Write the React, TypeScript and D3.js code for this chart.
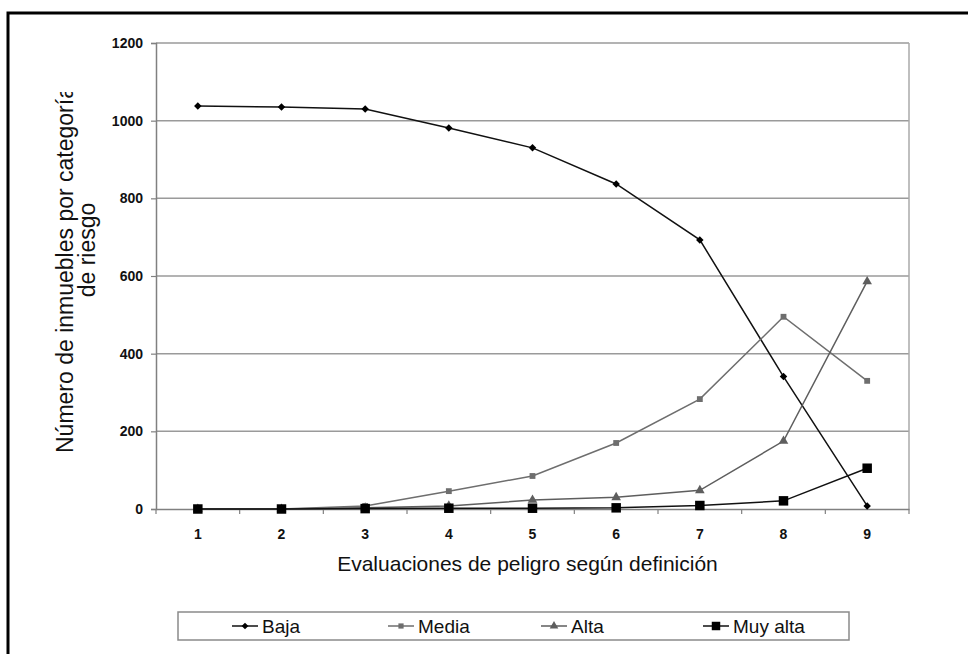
import { useRef, useEffect } from "react";
import * as d3 from "d3";

const categories = ["1", "2", "3", "4", "5", "6", "7", "8", "9"];
const baja = [1038, 1035, 1030, 981, 930, 837, 693, 341, 8];
const media = [0, 0, 8, 46, 85, 170, 283, 495, 330];
const alta = [0, 0, 3, 8, 23, 30, 48, 175, 586];
const muyAlta = [0, 0, 1, 2, 2, 3, 9, 21, 105];
const yTicks = [0, 200, 400, 600, 800, 1000, 1200];

const series = [
  { name: "Baja", values: baja, color: "#000", line: "#111", marker: "diamond", size: 28 },
  { name: "Media", values: media, color: "#6e6e6e", line: "#6e6e6e", marker: "square", size: 34 },
  { name: "Alta", values: alta, color: "#5e5e5e", line: "#5e5e5e", marker: "triangle", size: 40 },
  { name: "Muy alta", values: muyAlta, color: "#000", line: "#111", marker: "square", size: 90 },
];

const FONT = "'Liberation Sans', Arial, sans-serif";

// diamond drawn as a square turned 45 degrees (the d3 diamond is too tall)
const markerPath = (m: string, size: number) =>
  d3.symbol().type(m === "triangle" ? d3.symbolTriangle : d3.symbolSquare).size(size)();
const markerRotate = (m: string) => (m === "diamond" ? " rotate(45)" : "");

const App = () => {
  const svgRef = useRef(null);

  useEffect(() => {
    const svg = d3.select(svgRef.current);
    svg.selectAll("*").remove();

    const width = 968;
    const height = 654;
    const plot = { left: 156, right: 909, top: 43, bottom: 509 };

    // outer frame
    svg
      .append("rect")
      .attr("x", 8)
      .attr("y", 13)
      .attr("width", 1000)
      .attr("height", 700)
      .attr("fill", "white")
      .attr("stroke", "black")
      .attr("stroke-width", 3);

    const x = d3.scaleBand().domain(categories).range([plot.left, plot.right]);
    const y = d3.scaleLinear().domain([0, 1200]).range([plot.bottom, plot.top]);

    const g = svg.append("g");

    // gridlines
    g.selectAll("line.grid")
      .data(yTicks.filter((d) => d > 0))
      .enter()
      .append("line")
      .attr("x1", plot.left)
      .attr("x2", plot.right)
      .attr("y1", (d) => y(d))
      .attr("y2", (d) => y(d))
      .attr("stroke", "#9a9a9a")
      .attr("stroke-width", 1.5);

    // right border
    g.append("line")
      .attr("x1", plot.right)
      .attr("x2", plot.right)
      .attr("y1", plot.top)
      .attr("y2", plot.bottom)
      .attr("stroke", "#aaa")
      .attr("stroke-width", 1.5);

    // y axis
    const yAxis = g
      .append("g")
      .attr("transform", `translate(${plot.left},0)`)
      .call(
        d3.axisLeft(y).tickValues(yTicks).tickFormat(d3.format("d")).tickSize(5).tickPadding(8)
      );
    yAxis.select(".domain").attr("stroke", "#808080").attr("stroke-width", 1.5);
    yAxis.selectAll(".tick line").attr("stroke", "#808080").attr("stroke-width", 1.2);
    yAxis
      .selectAll(".tick text")
      .attr("fill", "#111")
      .style("font-family", FONT)
      .style("font-size", "14px")
      .style("font-weight", "bold");

    // x axis
    const xAxis = g
      .append("g")
      .attr("transform", `translate(0,${plot.bottom})`)
      .call(d3.axisBottom(x).tickSize(0).tickPadding(20));
    xAxis.select(".domain").attr("stroke", "#808080").attr("stroke-width", 1.5);
    xAxis
      .selectAll(".tick text")
      .attr("fill", "#111")
      .style("font-family", FONT)
      .style("font-size", "14px")
      .style("font-weight", "bold");
    // boundary ticks between categories
    g.selectAll("line.xtick")
      .data(categories)
      .enter()
      .append("line")
      .attr("x1", (d) => x(d) + x.bandwidth())
      .attr("x2", (d) => x(d) + x.bandwidth())
      .attr("y1", plot.bottom)
      .attr("y2", plot.bottom + 5)
      .attr("stroke", "#808080")
      .attr("stroke-width", 1.2);
    g.append("line")
      .attr("x1", plot.left)
      .attr("x2", plot.left)
      .attr("y1", plot.bottom)
      .attr("y2", plot.bottom + 5)
      .attr("stroke", "#808080")
      .attr("stroke-width", 1.2);

    // series lines + markers
    const cx = (i) => x(categories[i]) + x.bandwidth() / 2;
    const line = d3
      .line()
      .x((d, i) => cx(i))
      .y((d) => y(d));

    series.forEach((s) => {
      g.append("path")
        .datum(s.values)
        .attr("d", line)
        .attr("fill", "none")
        .attr("stroke", s.line)
        .attr("stroke-width", 1.5);
    });
    series.forEach((s) => {
      g.selectAll(null)
        .data(s.values)
        .enter()
        .append("path")
        .attr("d", markerPath(s.marker, s.size))
        .attr("transform", (d, i) => `translate(${cx(i)},${y(d)})${markerRotate(s.marker)}`)
        .attr("fill", s.color);
    });

    // axis titles
    svg
      .append("text")
      .attr("x", (plot.left + plot.right) / 2 - 5)
      .attr("y", 571)
      .attr("text-anchor", "middle")
      .style("font-family", FONT)
      .style("font-size", "21px")
      .attr("fill", "#111")
      .text("Evaluaciones de peligro según definición");

    // the first line of the y title is cut at the top, as in the original
    svg
      .append("clipPath")
      .attr("id", "ytitle-clip")
      .append("rect")
      .attr("x", 0)
      .attr("y", 92)
      .attr("width", 150)
      .attr("height", 500);

    const yt = svg.append("g").attr("clip-path", "url(#ytitle-clip)");
    yt.append("text")
      .attr("transform", "translate(73,453) rotate(-90)")
      .attr("text-anchor", "start")
      .style("font-family", FONT)
      .style("font-size", "23px")
      .attr("fill", "#111")
      .text("Número de inmuebles por categoría");
    yt.append("text")
      .attr("transform", "translate(95,250) rotate(-90)")
      .attr("text-anchor", "middle")
      .style("font-family", FONT)
      .style("font-size", "23px")
      .attr("fill", "#111")
      .text("de riesgo");

    // legend
    svg
      .append("rect")
      .attr("x", 178)
      .attr("y", 612)
      .attr("width", 671)
      .attr("height", 28)
      .attr("fill", "white")
      .attr("stroke", "#8a8a8a")
      .attr("stroke-width", 1.5);

    const legendX = [232, 388, 541, 703];
    const legendY = 626;
    series.forEach((s, i) => {
      const lg = svg.append("g").attr("transform", `translate(${legendX[i]},${legendY})`);
      lg.append("line")
        .attr("x1", 0)
        .attr("x2", 26)
        .attr("y1", 0)
        .attr("y2", 0)
        .attr("stroke", s.line)
        .attr("stroke-width", 1.5);
      lg.append("path")
        .attr("d", markerPath(s.marker, s.size * 0.8))
        .attr("transform", `translate(13,0)${markerRotate(s.marker)}`)
        .attr("fill", s.color);
      lg.append("text")
        .attr("x", 30)
        .attr("y", 7)
        .style("font-family", FONT)
        .style("font-size", "19px")
        .attr("fill", "#111")
        .text(s.name);
    });

    svg.attr("width", width).attr("height", height);
  }, []);

  return (
    <svg
      ref={svgRef}
      width={968}
      height={654}
      style={{ position: "absolute", left: 0, top: 0, background: "white" }}
    ></svg>
  );
};

export default App;
